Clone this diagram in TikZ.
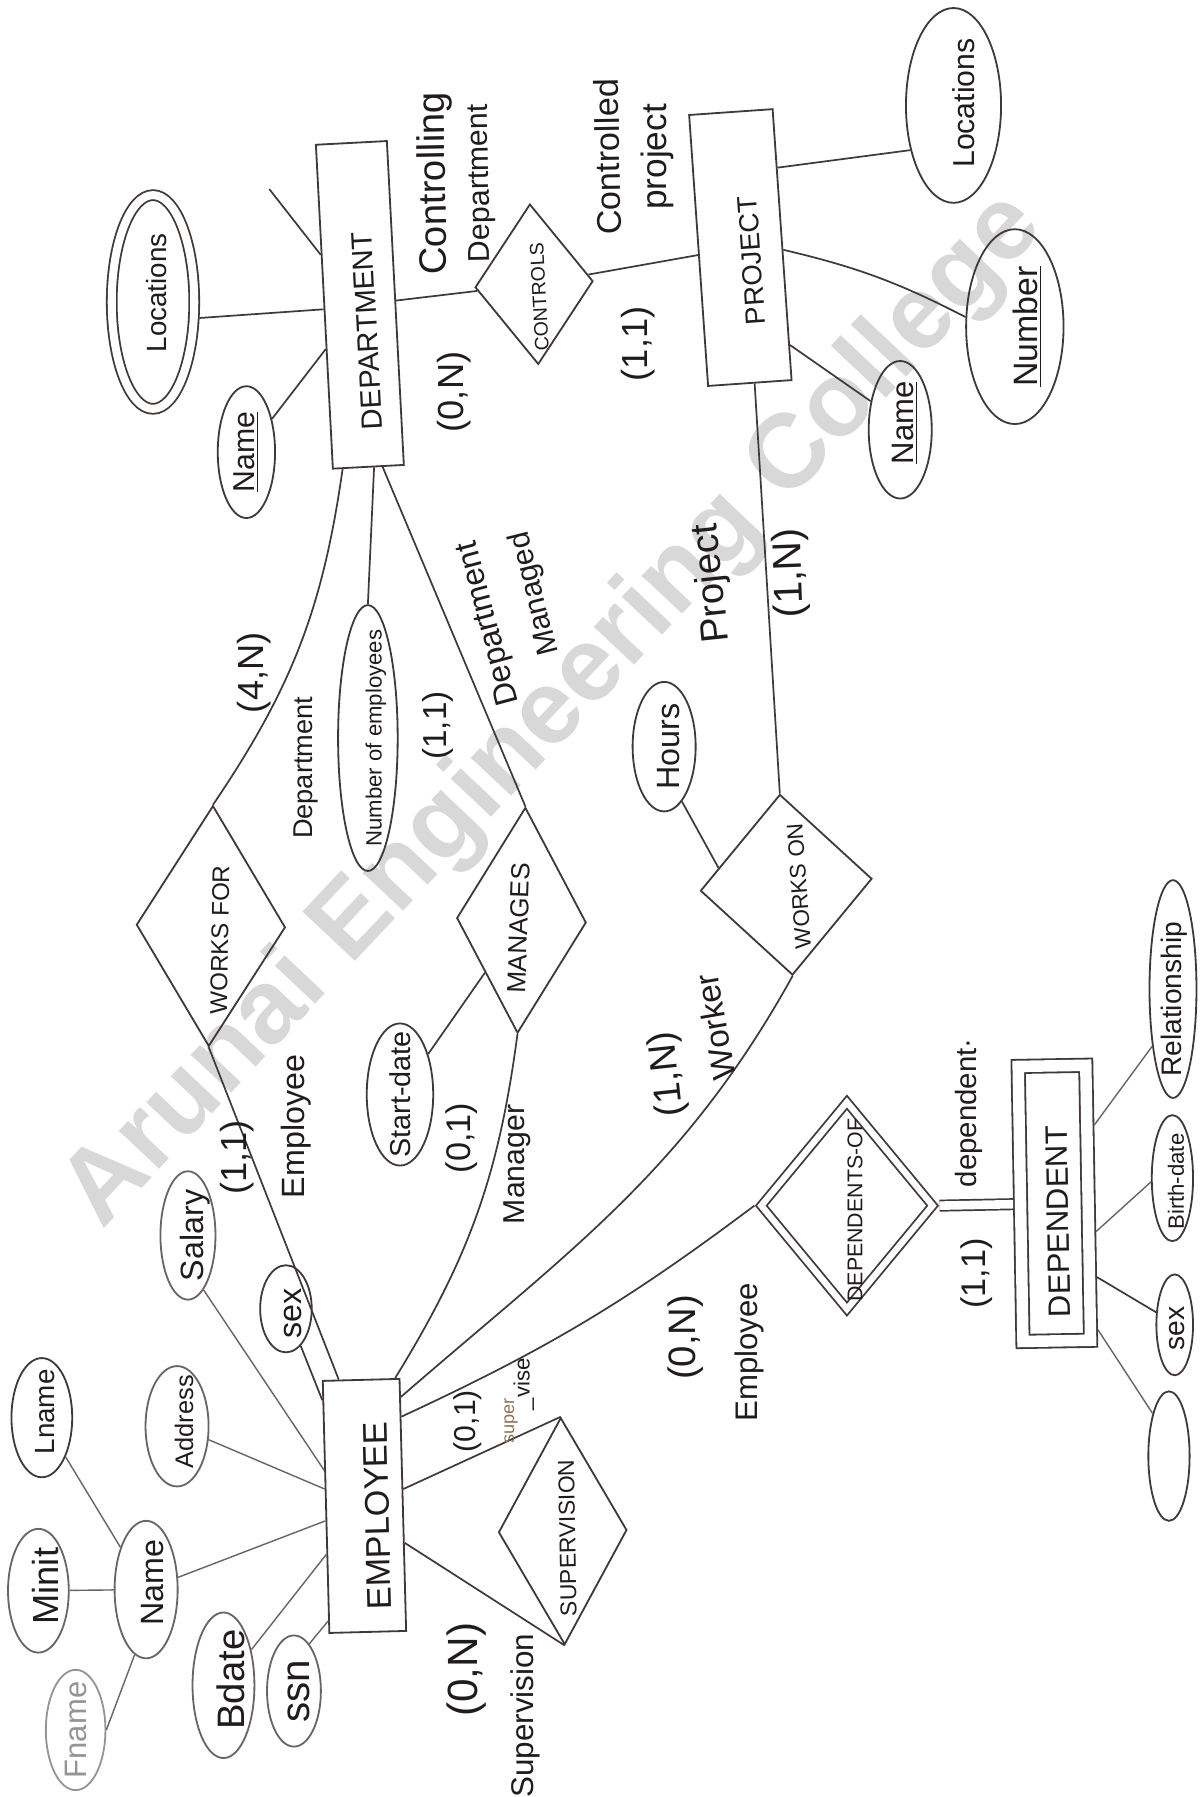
\documentclass[tikz,border=0pt]{standalone}
\usepackage{fontspec}
\setmainfont{Liberation Sans}
\usetikzlibrary{shapes.geometric}
% one unit of the drawing grid
\newlength\pxu \setlength\pxu{0.02cm}
% text of zero size, shifted along (#1) and across (#2) its own baseline
\newcommand\ctext[3]{\makebox[0pt]{\hspace*{#1\pxu}\raisebox{\dimexpr #2\pxu-(\height-\depth)/2\relax}[0pt][0pt]{#3}\hspace*{-#1\pxu}}}
\definecolor{ink}{RGB}{66,56,56}
\definecolor{pen}{RGB}{32,27,29}
\definecolor{soft}{RGB}{108,99,99}
\definecolor{wm}{RGB}{216,216,216}
\definecolor{faded}{RGB}{150,148,148}
\definecolor{brownish}{RGB}{140,115,90}

\begin{document}
\begin{tikzpicture}[x=0.02cm, y=-0.02cm,
  fs/.style={font={\fontsize{#1}{#1}\selectfont}},
  sz/.style 2 args={minimum width={#1*0.02cm}, minimum height={#2*0.02cm}},
  shape base/.style={draw=ink, line width=0.9pt, inner sep=0pt, text=pen},
  ent/.style={shape base, rectangle},
  relbox/.style={shape base, diamond},
  attr/.style={shape base, ellipse},
  softattr/.style={attr, draw=soft},
  lbl/.style={inner sep=0pt, text=pen},
  wmk/.style={font={\fontsize{52}{52}\selectfont\bfseries}, text=wm, rotate=46.7, inner sep=0pt, anchor=base west},
  link/.style={draw=ink, line width=0.85pt},
  alink/.style={draw=soft, line width=0.7pt},
]
\useasboundingbox (0,0) rectangle (1047,1568);
\fill[white] (0,0) rectangle (1047,1568);

% watermark, one word after the other along a common baseline
\node[wmk] (mark-a) at (89.4,1073.5) {Arunai};
\node[wmk] (mark-b) at (mark-a.base east) {\kern0.278em Engineering};
\node[wmk] (mark-c) at (mark-b.base east) {\kern0.278em College};

% entities
\node[ent, sz={283}{62}, rotate=93, fs=14.5] (dept) at (314,266) {\ctext{-23}{-5}{DEPARTMENT}};
\node[ent, sz={237}{73}, rotate=94, fs=13.7] (proj) at (646,216) {\ctext{-12}{-9}{PROJECT}};
\node[ent, sz={220}{67}, rotate=91.5, fs=17] (emp) at (318,1314) {\ctext{-9}{-11}{EMPLOYEE}};
\node[ent, sz={240}{59}, rotate=91, fs=15.4, double=white, double distance=0.2cm, outer sep=0.13cm] (dependent) at (920,1050) {\ctext{-16}{-3}{DEPENDENT}};

% relationships
\node[relbox, sz={140}{103}, rotate=93, fs=9.7] (controls) at (466,248) {\ctext{-11}{-4}{CONTROLS}};
\node[relbox, sz={210}{130}, rotate=89, fs=12] (worksfor) at (184,808) {\ctext{-12}{-8}{WORKS FOR}};
\node[relbox, sz={197}{113}, rotate=88, fs=13] (manages) at (455,803) {\ctext{-7}{2}{MANAGES}};
\node[relbox, sz={158}{150}, rotate=94, fs=11.2] (workson) at (686,772) {\ctext{-2}{-11}{WORKS ON}};
\node[relbox, sz={198}{112}, rotate=91, fs=11.4] (supervision) at (491,1336) {\ctext{-6}{-4}{SUPERVISION}};
\node[relbox, sz={184}{153}, rotate=90, fs=10.6, double=white, double distance=0.11cm, outer sep=0.085cm] (depof) at (739,1052) {\ctext{-4}{-7}{DEPENDENTS-OF}};

% attributes
\node[attr, sz={186.5}{72}, rotate=90, fs=13.8, double=white, double distance=0.14cm, outer sep=0.1cm] (dloc) at (133.5,263.5) {\ctext{8}{-3}{Locations}};
\node[attr, sz={115}{50}, rotate=90, fs=15] (dname) at (215,394.5) {\ctext{0}{0}{\underline{Name}}};
\node[attr, sz={170}{83}, rotate=90, fs=15] (ploc) at (832,92) {\ctext{2}{-9}{Locations}};
\node[attr, sz={170}{85}, rotate=90, fs=16.8] (pnum) at (885.5,285) {\ctext{0}{-11}{\underline{Number}}};
\node[attr, sz={120}{55}, rotate=90, fs=15.4] (pname) at (785.5,375) {\ctext{6}{-4}{\underline{Name}}};
\node[attr, sz={113}{55}, rotate=90, fs=16] (hours) at (579.5,651.5) {\ctext{0}{-4}{Hours}};
\node[attr, sz={232}{52}, rotate=90, fs=11] (numemp) at (321,644) {\ctext{0}{-7}{Number of employees}};
\node[attr, sz={124}{58}, rotate=90, fs=14.3] (startdate) at (349,955) {\ctext{0}{0}{Start-date}};
\node[softattr, sz={112}{48}, rotate=90, fs=16] (salary) at (164,1078) {\ctext{0}{-6}{Salary}};
\node[attr, sz={76}{45}, rotate=90, fs=16] (sex) at (249.5,1142) {\ctext{-4}{-6}{sex}};
\node[softattr, sz={105}{55}, rotate=90, fs=12.6] (address) at (154.5,1244.5) {\ctext{4}{-6}{Address}};
\node[attr, sz={104}{53}, rotate=90, fs=13.8] (lname) at (36.5,1237) {\ctext{5}{-3}{Lname}};
\node[softattr, sz={108}{53}, rotate=90, fs=18] (minit) at (33.5,1388) {\ctext{4}{-6}{Minit}};
\node[softattr, sz={120}{55}, rotate=90, fs=16] (ename) at (127.5,1387) {\ctext{6}{-6}{Name}};
\node[attr, sz={105}{52}, rotate=90, fs=15.4, draw=faded, text=faded] (fname) at (66,1509.5) {\ctext{0}{0}{Fname}};
\node[softattr, sz={127}{54}, rotate=90, fs=19] (bdate) at (195,1470.5) {\ctext{5}{-6}{Bdate}};
\node[softattr, sz={97}{47}, rotate=90, fs=20] (ssn) at (256.5,1475.5) {\ctext{0}{-4}{ssn}};
\node[attr, sz={190}{41}, rotate=90, fs=14] (relship) at (1023.5,863) {\ctext{-9}{-1}{Relationship}};
\node[attr, sz={110}{36}, rotate=90, fs=11] (bdate2) at (1023,1028) {\ctext{-3}{-3}{Birth-date}};
\node[attr, sz={88}{32}, rotate=90, fs=14] (dsex) at (1025,1156) {\ctext{-3}{-2}{sex}};
\node[attr, sz={113}{36}, rotate=90] (blank) at (1020,1270.5) {};

% loose end of the short stroke on DEPARTMENT
\coordinate (stub) at (235,165);

% connectors
\draw[link] (dept) -- (stub);
\draw[link] (dloc.-109) -- (dept.94);
\draw[link] (dname) -- (dept);
\draw[link] (dept) -- (controls);
\draw[link] (controls) -- (proj);
\draw[link] (proj.-29) -- (ploc.136);
\draw[link] (proj.-97) to[bend left=7] (pnum.79);
\draw[link] (proj.-157) -- (pname.46);
\draw[link] (proj.-178) -- (workson.east);
\draw[link] (hours.-162) -- (workson.72);
\draw[link] (workson.west) to[out=241,in=41] (emp.-20);
\draw[link] (worksfor.west) -- (emp.10);
\draw[link] (manages.west) to[bend left=12] (emp.-15);
\draw[link] (emp.-24) to[bend right=6] (depof.north);
\draw[link] (emp.-68) -- (supervision.east);
\draw[link] (emp.-134) -- (supervision.west);
\draw[alink] (ename) -- (emp);
\draw[alink] (address) -- (emp);
\draw[alink] (salary.-164) -- (emp.47);
\draw[link] (sex) -- (emp);
\draw[alink] (bdate) -- (emp);
\draw[alink] (ssn.-18) -- (emp.161);
\draw[alink] (ename) -- (lname);
\draw[alink] (ename) -- (minit);
\draw[alink] (ename.170) -- (fname.-90);
\draw[link, double=white, double distance=0.15cm] (depof.south) -- (dependent);
\draw[alink] (dependent.-28) -- (relship.160);
\draw[alink] (dependent.-125) -- (bdate2.100);
\draw[link] (dependent.-151) -- (dsex.56);
\draw[alink] (dependent.-162) -- (blank.21);
\draw[link] (dept.171) to[bend left=13] (worksfor.east);
\draw[link] (dept.-178) -- (numemp.east);
\draw[link] (dept.-175) -- (manages.east);
\draw[link] (startdate) -- (manages);

% role names and cardinalities
\node[lbl, fs=19, rotate=91] (ctrl-a) at (380,160) {Controlling};
\node[lbl, fs=15, rotate=91] (ctrl-b) at (420,160) {Department};
\node[lbl, fs=18, rotate=90] (card-dc) at (396,342) {(0,N)};
\node[lbl, fs=17, rotate=91] (ctld-a) at (530,137) {Controlled};
\node[lbl, fs=17.5, rotate=90] (ctld-b) at (574,137) {project};
\node[lbl, fs=18, rotate=90] (card-pc) at (557,300) {(1,1)};
\node[lbl, fs=18, rotate=90] (card-dw) at (222,587) {(4,N)};
\node[lbl, fs=13.5, rotate=90] (role-dw) at (267,670) {Department};
\node[lbl, fs=16.5, rotate=90] (card-dm) at (382,633) {(1,1)};
\node[lbl, fs=16, rotate=105] (role-dm-a) at (427,544) {Department};
\node[lbl, fs=15, rotate=104] (role-dm-b) at (467,518) {Managed};
\node[lbl, fs=19, rotate=96] (role-pw) at (622,509) {Project};
\node[lbl, fs=20, rotate=92] (card-pw) at (690,500) {(1,N)};
\node[lbl, fs=19, rotate=96] (card-ew) at (583,937) {(1,N)};
\node[lbl, fs=16.5, rotate=100] (role-ew) at (624,896) {Worker};
\node[lbl, fs=18, rotate=90] (card-ef) at (207,1010) {(1,1)};
\node[lbl, fs=16, rotate=90] (role-ef) at (258,983) {Employee};
\node[lbl, fs=17, rotate=90] (card-em) at (403,993) {(0,1)};
\node[lbl, fs=15, rotate=90] (role-em) at (451,1016) {Manager};
\node[lbl, fs=14.6, rotate=90] (role-dd) at (845,971) {dependent·};
\node[lbl, fs=17, rotate=90] (card-dd) at (852,1111) {(1,1)};
\node[lbl, fs=19, rotate=90] (card-ed) at (598,1167) {(0,N)};
\node[lbl, fs=15.5, rotate=90] (role-ed) at (654,1180) {Employee};
\node[lbl, fs=15, rotate=90] (card-es) at (408,1240) {(0,1)};
\node[lbl, fs=9, rotate=90, text=brownish] (role-es-a) at (446,1240) {super};
\node[lbl, fs=11, rotate=90] (role-es-b) at (457,1208) {\_vise};
\node[lbl, fs=21, rotate=90] (card-sv) at (407,1457) {(0,N)};
\node[lbl, fs=15.6, rotate=90] (role-sv) at (458,1497) {Supervision};
\end{tikzpicture}
\end{document}
